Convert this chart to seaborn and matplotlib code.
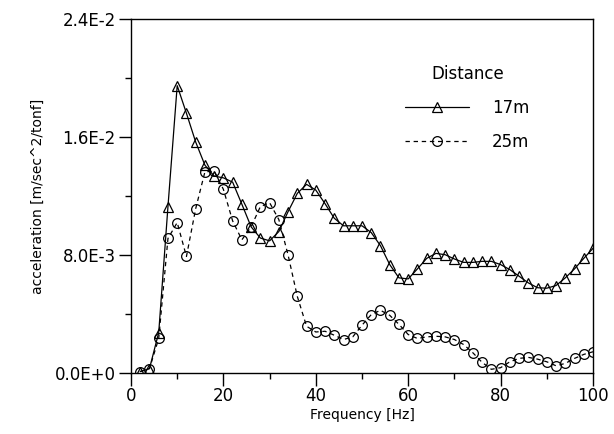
import matplotlib
matplotlib.use("Agg")
import matplotlib.pyplot as plt
import matplotlib.ticker as mticker
import seaborn as sns
import pandas as pd

# values
frequency = [2, 4, 6, 8, 10, 12, 14, 16, 18, 20,
             22, 24, 26, 28, 30, 32, 34, 36, 38, 40,
             42, 44, 46, 48, 50, 52, 54, 56, 58, 60,
             62, 64, 66, 68, 70, 72, 74, 76, 78, 80,
             82, 84, 86, 88, 90, 92, 94, 96, 98, 100]

accel_17m = [0.0001, 0.0003, 0.00274, 0.01128, 0.01948, 0.01761, 0.01566, 0.01409, 0.01335, 0.01323,
             0.01294, 0.01144, 0.00991, 0.00915, 0.00896, 0.00959, 0.01094, 0.01218, 0.01279, 0.0124,
             0.01148, 0.01049, 0.00998, 0.00998, 0.00998, 0.00952, 0.00863, 0.00735, 0.00645, 0.00638,
             0.00706, 0.00777, 0.00811, 0.00802, 0.00773, 0.0075, 0.0075, 0.00757, 0.00757, 0.00735,
             0.00701, 0.00656, 0.00611, 0.00578, 0.00575, 0.00593, 0.00645, 0.00706, 0.00777, 0.00845]

accel_25m = [0.0001, 0.0003, 0.00234, 0.00912, 0.0102, 0.0079, 0.01114, 0.01364, 0.01368, 0.01245,
             0.01031, 0.00903, 0.00991, 0.01128, 0.01155, 0.0104, 0.008, 0.00519, 0.00317, 0.00278,
             0.00283, 0.00256, 0.00227, 0.00245, 0.00324, 0.00396, 0.00425, 0.00391, 0.0033, 0.00261,
             0.00234, 0.00245, 0.00249, 0.00245, 0.00227, 0.00193, 0.00137, 0.00072, 0.00025, 0.00036,
             0.00076, 0.00099, 0.00106, 0.00094, 0.00076, 0.00049, 0.00065, 0.00099, 0.00126, 0.00144]

distances = ["17m", "25m"]
y_ticks = [0.0, 0.008, 0.016, 0.024]


def sci_label(v, pos=None):
    """Format like 8.0E-3 / 0.0E+0."""
    if v == 0:
        return "0.0E+0"
    s = f"{v:.1E}"
    mant, exp = s.split("E")
    return f"{mant}E{int(exp)}"


df = pd.concat([
    pd.DataFrame({"Frequency": frequency, "acc": accel_17m, "Distance": distances[0]}),
    pd.DataFrame({"Frequency": frequency, "acc": accel_25m, "Distance": distances[1]}),
])

sns.set_style("ticks")
plt.rcParams["font.family"] = ["DejaVu Sans"]
plt.rcParams["text.color"] = "black"
plt.rcParams["axes.labelcolor"] = "black"
plt.rcParams["xtick.color"] = "black"
plt.rcParams["ytick.color"] = "black"

fig = plt.figure(figsize=(6.14, 4.34), dpi=100)
ax = fig.add_axes([131 / 614, 1 - 373 / 434, (593 - 131) / 614, (373 - 19) / 434])

sns.lineplot(data=df, x="Frequency", y="acc", hue="Distance", style="Distance",
             palette=["black", "black"], markers={"17m": "^", "25m": "o"},
             dashes={"17m": "", "25m": (3.5, 3)}, linewidth=0.9,
             markersize=7, legend=False, ax=ax)

for line in ax.lines:
    line.set_markerfacecolor("none")
    line.set_markeredgecolor("black")
    line.set_markeredgewidth(0.9)

ax.legend(ax.lines[:2], distances, title="Distance", frameon=False,
          loc="upper left", bbox_to_anchor=(397 / 614, 1 - 57 / 434),
          bbox_transform=fig.transFigure, borderpad=0, fontsize=12,
          title_fontsize=12, handlelength=3.8, handletextpad=1.4,
          labelspacing=0.95)

ax.set_xlim(0, 100)
ax.set_ylim(0, 0.024)
ax.set_xticks([0, 20, 40, 60, 80, 100])
ax.xaxis.set_minor_locator(mticker.MultipleLocator(10))
ax.set_yticks(y_ticks)
ax.yaxis.set_minor_locator(mticker.MultipleLocator(0.004))
ax.yaxis.set_major_formatter(mticker.FuncFormatter(sci_label))

ax.tick_params(axis="both", which="major", direction="out", length=9, width=1,
               labelsize=12, color="black", labelcolor="black")
ax.tick_params(axis="both", which="minor", direction="out", length=4.5, width=1,
               color="black")
ax.tick_params(axis="x", which="major", pad=1)
ax.tick_params(axis="y", which="major", pad=2)

for sp in ax.spines.values():
    sp.set_visible(True)
    sp.set_color("black")
    sp.set_linewidth(1.0)

ax.set_xlabel("Frequency [Hz]", fontsize=10, labelpad=2, color="black")
ax.set_ylabel("acceleration [m/sec^2/tonf]", fontsize=10, labelpad=7, color="black")

fig.savefig("out.png", dpi=100, facecolor="white")
